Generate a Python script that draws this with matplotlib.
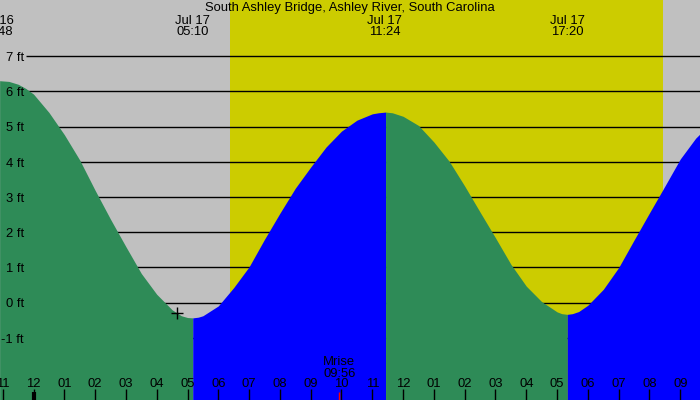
import numpy as np
import matplotlib.pyplot as plt
from matplotlib.transforms import blended_transform_factory

plt.rcParams['font.family'] = ['Liberation Sans', 'DejaVu Sans']

title = "South Ashley Bridge, Ashley River, South Carolina"

# hours from midnight of Jul 17, tide height in ft
t = np.array([-1.10, -0.8, -0.5, -0.25, 0.0, 0.5, 1.0, 1.5, 2.0, 2.5, 3.0, 3.5, 4.0, 4.5, 4.8, 5.0, 5.17,
              5.35, 5.5, 6.0, 6.5, 7.0, 7.5, 8.0, 8.5, 9.0, 9.5, 10.0, 10.5, 11.0, 11.2, 11.43,
              11.65, 12.0, 12.5, 13.0, 13.5, 14.0, 14.5, 15.0, 15.5, 16.0, 16.5, 17.0, 17.15, 17.33,
              17.5, 17.7, 18.0, 18.5, 19.0, 19.5, 20.0, 20.5, 21.0, 21.5, 22.0])
h = np.array([6.30, 6.28, 6.20, 6.08, 5.92, 5.40, 4.77, 4.05, 3.19, 2.37, 1.59, 0.83, 0.24, -0.20, -0.37, -0.42, -0.43,
              -0.41, -0.37, -0.09, 0.43, 1.02, 1.80, 2.54, 3.25, 3.85, 4.42, 4.87, 5.18, 5.36, 5.39, 5.41,
              5.39, 5.29, 5.03, 4.56, 4.01, 3.31, 2.57, 1.84, 1.09, 0.47, 0.03, -0.26, -0.31, -0.33,
              -0.31, -0.25, -0.07, 0.38, 1.00, 1.78, 2.55, 3.31, 4.08, 4.67, 5.10])

# tide extremes shown at the top
ext_t = [-1.2, 5.167, 11.4, 17.333]
ext_lab = ["Jul 16\n22:48", "Jul 17\n05:10", "Jul 17\n11:24", "Jul 17\n17:20"]
# indices in t where extremes sit (split falling / rising)
split_idx = [16, 31, 45]

sunrise, sunset = 6.38, 20.44
moonrise = 9.933
now_t, now_h = 4.66, -0.29

ft_levels = [-1, 0, 1, 2, 3, 4, 5, 6, 7]
hours = np.arange(-1, 22)
hour_labels = ["%02d" % (((hr % 12) + 11) % 12 + 1) for hr in hours]

fig = plt.figure(figsize=(7, 4), dpi=100)
ax = fig.add_axes([0, 0, 1, 1])
ax.set_facecolor('#c0c0c0')
ax.set_xlim(-1.088, 21.64)
ax.set_ylim(-2.76, 8.59)

ax.axvspan(sunrise, sunset, color='#cccc00', zorder=0.5, lw=0)
ax.hlines(ft_levels, -0.25, 22, color='black', lw=1, zorder=0.8)

green, blue = '#2e8b57', '#0000ff'
bounds = [0] + split_idx + [len(t) - 1]
for k in range(len(bounds) - 1):
    a, b = bounds[k], bounds[k + 1]
    col = green if k % 2 == 0 else blue
    ax.fill_between(t[a:b + 1], h[a:b + 1], -5, color=col, lw=0, zorder=1)

fs = 9.4
for lv in ft_levels:
    ax.text(-0.31, lv - 0.05, "%d ft" % lv, ha='right', va='center', fontsize=fs, zorder=3)

ax.text(0.5, 1 - 8 / 400, title, transform=ax.transAxes, ha='center', va='center', fontsize=fs)
for x, lab in zip(ext_t, ext_lab):
    ax.text(x, 8.59 - 26.5 / 35.24, lab, ha='center', va='center', fontsize=fs, linespacing=0.95)

ax.plot([now_t], [now_h], marker='+', color='black', ms=9, mew=1, zorder=3)

trans = blended_transform_factory(ax.transData, ax.transAxes)
ax.text(moonrise, 32 / 400, "Mrise\n09:56", transform=trans, ha='center', va='center',
        fontsize=fs, linespacing=0.95, zorder=3)
ax.vlines([moonrise], 0, 8 / 400, transform=trans, color='red', lw=1, zorder=3)
ax.vlines([0], 0, 8 / 400, transform=trans, color='black', lw=3, zorder=3)

ax.set_xticks(hours)
ax.set_xticklabels(hour_labels)
ax.tick_params(axis='x', direction='in', length=8, width=1, pad=-15.5, labelsize=fs)
ax.set_yticks([])
ax.set_axisbelow(False)
for s in ax.spines.values():
    s.set_visible(False)

fig.savefig('out.png', dpi=100)
